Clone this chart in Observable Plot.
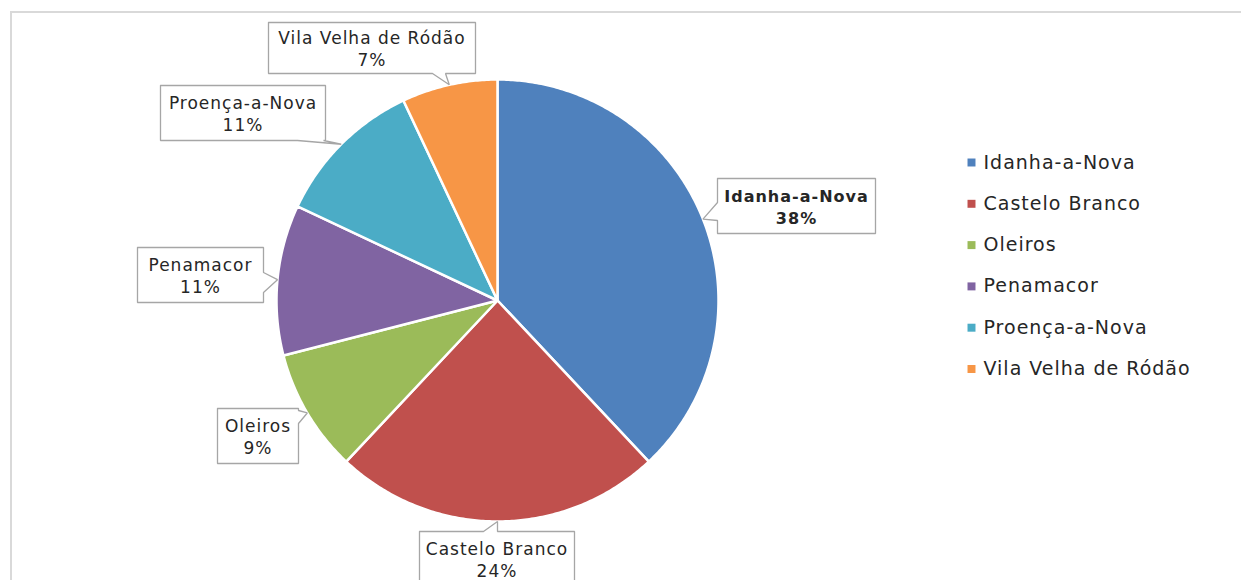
<!DOCTYPE html>
<html><head><meta charset="utf-8">
<script src="https://cdn.jsdelivr.net/npm/d3@7"></script>
<script src="https://cdn.jsdelivr.net/npm/@observablehq/plot@0.6"></script>
<style>
html,body{margin:0;padding:0;background:#fff;overflow:hidden;width:1241px;height:580px;}
#frame{position:absolute;left:10px;top:11px;width:1400px;height:800px;border:2px solid #d9d9d9;box-sizing:border-box;}
#chart{position:absolute;left:0;top:0;}
</style></head><body>
<div id="frame"></div><div id="chart"></div>
<script>
// ---- data ----
const categories = ["Idanha-a-Nova","Castelo Branco","Oleiros","Penamacor","Proença-a-Nova","Vila Velha de Ródão"];
const values = [38, 24, 9, 11, 11, 7];
const percentLabels = ["38%","24%","9%","11%","11%","7%"];
const colors = ["#4F81BD","#C0504D","#9BBB59","#8064A2","#4BACC6","#F79646"];

// ---- layout ----
const W = 1241, H = 580, CX = 497, CY = 300, R = 221;
const boxes = [
  {l:717, t:178, w:158, h:55, side:"left",   a:24,  b:42},
  {l:419, t:531, w:155, h:60, side:"top",    a:64,  b:78},
  {l:217, t:408, w:81,  h:55, side:"right",  a:2,   b:15},
  {l:137, t:247, w:126, h:55, side:"right",  a:25,  b:45},
  {l:160, t:85,  w:165, h:55, side:"bottom", a:137, b:163},
  {l:268, t:22,  w:207, h:51, side:"bottom", a:164, b:177}
];
const legendX = 971, legendTop = 162, legendStep = 41.3;

const arcs = d3.pie().sort(null).value(d => d)(values);

const slicePts = [];
arcs.forEach((a, i) => {
  const name = categories[i];
  slicePts.push({name, x: CX, y: CY});
  const n = Math.max(2, Math.ceil((a.endAngle - a.startAngle) / 0.01));
  for (let k = 0; k <= n; k++) {
    const t = a.startAngle + (a.endAngle - a.startAngle) * k / n;
    slicePts.push({name, x: CX + R * Math.sin(t), y: CY - R * Math.cos(t)});
  }
  slicePts.push({name, x: CX, y: CY});
});

function callout(i) {
  const b = boxes[i], a = arcs[i], m = (a.startAngle + a.endAngle) / 2;
  const tip = [CX + R * Math.sin(m), CY - R * Math.cos(m)];
  const L = b.l, T = b.t, Rr = b.l + b.w, B = b.t + b.h;
  const p = [[L, T]];
  if (b.side === "top") p.push([L + b.a, T], tip, [L + b.b, T]);
  p.push([Rr, T]);
  if (b.side === "right") p.push([Rr, T + b.a], tip, [Rr, T + b.b]);
  p.push([Rr, B]);
  if (b.side === "bottom") p.push([L + b.b, B], tip, [L + b.a, B]);
  p.push([L, B]);
  if (b.side === "left") p.push([L, T + b.b], tip, [L, T + b.a]);
  p.push([L, T]);
  return p.map(([x, y]) => ({name: categories[i], x, y}));
}
const calloutPts = categories.flatMap((c, i) => callout(i));

const labels = categories.map((c, i) => ({
  name: c, text: c + "\n" + percentLabels[i],
  x: boxes[i].l + boxes[i].w / 2, y: boxes[i].t + Math.min(boxes[i].h, 55) / 2, bold: i === 0
}));
const legend = categories.map((c, i) => ({name: c, x: legendX, y: legendTop + i * legendStep}));

const chart = Plot.plot({
  width: W, height: H, margin: 0,
  x: {domain: [0, W], range: [0, W], axis: null},
  y: {domain: [0, H], range: [0, H], axis: null},
  color: {domain: categories, range: colors},
  style: {fontFamily: "DejaVu Sans", letterSpacing: "1px", background: "transparent", color: "#262626"},
  marks: [
    Plot.line(slicePts, {x: "x", y: "y", z: "name", fill: "name", stroke: "white", strokeWidth: 2.5, strokeLinejoin: "round"}),
    Plot.line(calloutPts, {x: "x", y: "y", z: "name", fill: "white", stroke: "#a6a6a6", strokeWidth: 1.3, strokeLinejoin: "miter"}),
    Plot.text(labels.filter(d => !d.bold), {x: "x", y: "y", text: "text", fontSize: 17, lineHeight: 1.3, fill: "#262626"}),
    Plot.text(labels.filter(d => d.bold), {x: "x", y: "y", text: "text", fontSize: 16, fontWeight: "bold", lineHeight: 1.4, fill: "#262626"}),
    Plot.dot(legend, {x: "x", y: "y", fill: "name", symbol: "square", r: 4.5, stroke: null}),
    Plot.text(legend, {x: d => d.x + 12, y: "y", text: "name", textAnchor: "start", fontSize: 19, fill: "#262626"})
  ]
});
document.getElementById("chart").appendChild(chart);
</script>
</body></html>
